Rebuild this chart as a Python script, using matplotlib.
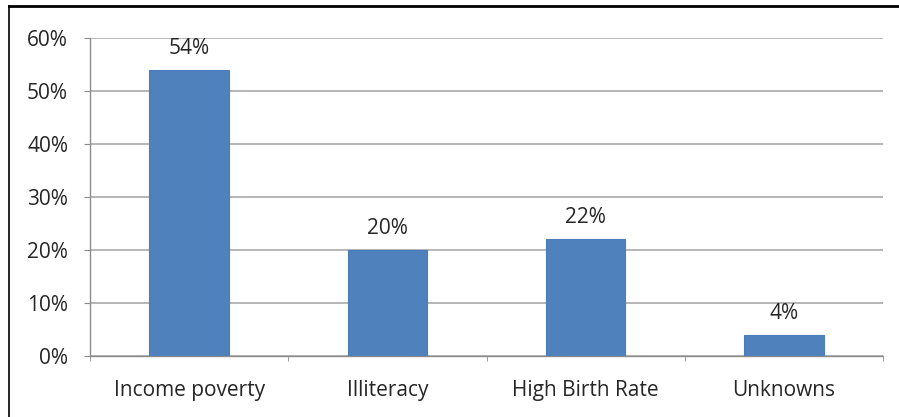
import matplotlib
matplotlib.use("Agg")
import matplotlib.pyplot as plt
from matplotlib.ticker import PercentFormatter
from matplotlib.lines import Line2D

categories = ["Income poverty", "Illiteracy", "High Birth Rate", "Unknowns"]
values = [54, 20, 22, 4]
y_ticks = [0, 10, 20, 30, 40, 50, 60]

plt.rcParams["font.family"] = ["Open Sans", "DejaVu Sans"]

W, H = 899, 417
fig = plt.figure(figsize=(W / 100, H / 100), dpi=100)
fig.patch.set_facecolor("white")

x0, x1 = 90, 883
y_top, y_bot = 38, 356
ax = fig.add_axes([x0 / W, 1 - y_bot / H, (x1 - x0) / W, (y_bot - y_top) / H])

pos = list(range(len(categories)))
ax.bar(pos, values, width=0.4, color="#4F81BD", edgecolor="#4A7EBB", linewidth=0.8, zorder=3)

text_color = "#262626"
for x, v in zip(pos, values):
    ax.annotate(f"{v}%", (x, v), xytext=(0, 11.5), textcoords="offset points",
                ha="center", va="baseline", fontsize=15, color=text_color)

ax.set_xlim(-0.5, len(categories) - 0.5)
ax.set_ylim(0, 60)
ax.set_yticks(y_ticks)
ax.yaxis.set_major_formatter(PercentFormatter(decimals=0))
ax.set_xticks(pos)
ax.set_xticklabels(categories)
ax.set_xticks([p + 0.5 for p in [-1] + pos], minor=True)

ax.grid(axis="y", color="#B0B0B0", linewidth=1.3, zorder=0)
for s in ["top", "right"]:
    ax.spines[s].set_visible(False)
for s in ["left", "bottom"]:
    ax.spines[s].set_color("#8C8C8C")
    ax.spines[s].set_linewidth(1.0)

ax.tick_params(axis="y", length=4.3, color="#8C8C8C", labelsize=15, labelcolor=text_color, pad=11.5)
ax.tick_params(axis="x", which="major", length=0, labelsize=15, labelcolor=text_color, pad=17.5)
ax.tick_params(axis="x", which="minor", length=3.6, color="#8C8C8C")

# frame edges along top and left of the figure
fig.add_artist(Line2D([9 / W, 1], [1 - 6 / H, 1 - 6 / H], color="black", linewidth=2.0))
fig.add_artist(Line2D([9 / W, 9 / W], [0, 1 - 6 / H], color="black", linewidth=1.2))

fig.savefig("out.png", dpi=100, facecolor="white")
